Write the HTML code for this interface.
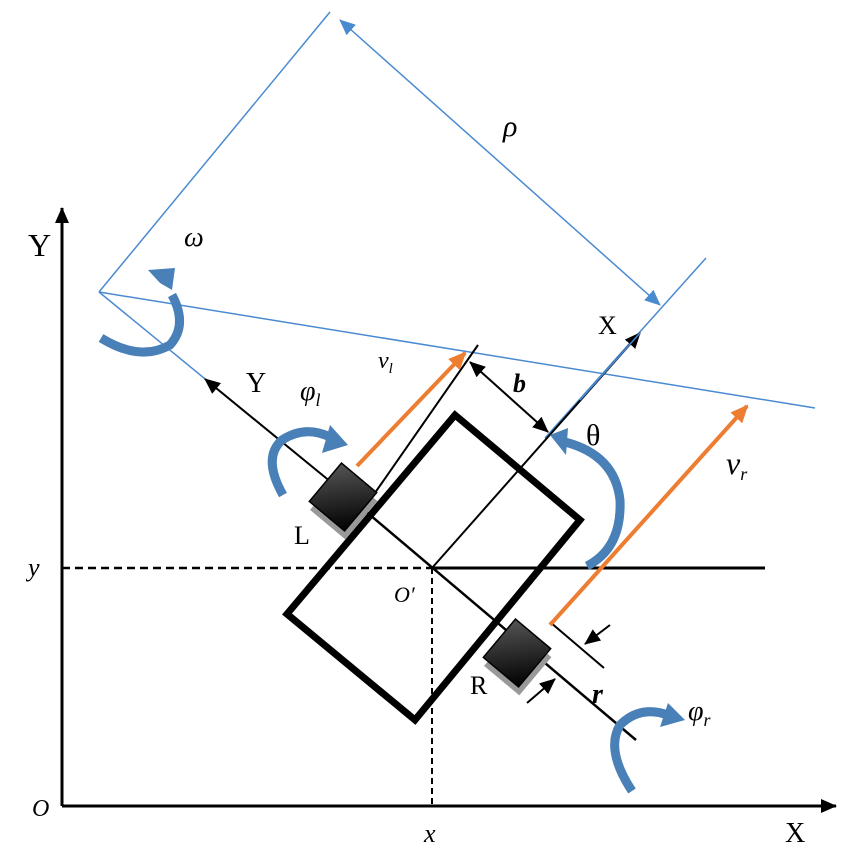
<!DOCTYPE html>
<html><head><meta charset="utf-8"><style>
html,body{margin:0;padding:0;background:#fff;width:850px;height:850px;overflow:hidden}
text{font-family:"Liberation Serif",serif}
</style></head><body>
<svg width="850" height="850" viewBox="0 0 850 850" xmlns="http://www.w3.org/2000/svg">
<defs>
<marker id="ab2" markerWidth="16" markerHeight="14" refX="15" refY="7" orient="auto" markerUnits="userSpaceOnUse"><path d="M0,0 L16,7 L0,14 Z" fill="#000"/></marker>
<marker id="ab2s" markerWidth="16" markerHeight="14" refX="1" refY="7" orient="auto" markerUnits="userSpaceOnUse"><path d="M16,0 L0,7 L16,14 Z" fill="#000"/></marker>
<marker id="abl" markerWidth="16" markerHeight="14" refX="15" refY="7" orient="auto" markerUnits="userSpaceOnUse"><path d="M0,0 L16,7 L0,14 Z" fill="#4a8ad0"/></marker>
<marker id="abls" markerWidth="16" markerHeight="14" refX="1" refY="7" orient="auto" markerUnits="userSpaceOnUse"><path d="M16,0 L0,7 L16,14 Z" fill="#4a8ad0"/></marker>
<marker id="ao" markerWidth="18" markerHeight="16" refX="16" refY="8" orient="auto" markerUnits="userSpaceOnUse"><path d="M0,0 L18,8 L0,16 Z" fill="#ed7d31"/></marker>
<linearGradient id="wg" x1="0" y1="0" x2="1" y2="1"><stop offset="0" stop-color="#555"/><stop offset="1" stop-color="#000"/></linearGradient>
</defs>
<line x1="62" y1="806" x2="62" y2="208" stroke="#000" stroke-width="3" marker-end="url(#ab2)"/>
<line x1="62" y1="806" x2="836" y2="806" stroke="#000" stroke-width="3" marker-end="url(#ab2)"/>
<g stroke="#4a8ad0" stroke-width="1.5" fill="none">
<line x1="99" y1="292" x2="330" y2="12"/>
<line x1="99" y1="292" x2="815" y2="408"/>
<line x1="99" y1="292" x2="337" y2="487"/>
<line x1="545" y1="438" x2="706" y2="258"/>
<line x1="340" y1="20" x2="660" y2="305" marker-start="url(#abls)" marker-end="url(#abl)"/>
</g>
<line x1="62" y1="568" x2="432" y2="568" stroke="#000" stroke-width="2.5" stroke-dasharray="8,5"/>
<line x1="432" y1="568" x2="432" y2="806" stroke="#000" stroke-width="2" stroke-dasharray="6,4"/>
<line x1="432" y1="568" x2="765" y2="568" stroke="#000" stroke-width="3"/>
<line x1="432" y1="568" x2="640" y2="333" stroke="#000" stroke-width="2" marker-end="url(#ab2)"/>
<line x1="580" y1="400" x2="640" y2="333" stroke="#4a8ad0" stroke-width="1.5"/>
<line x1="337" y1="487" x2="205" y2="379" stroke="#000" stroke-width="2" marker-end="url(#ab2)"/>
<line x1="337" y1="487" x2="636" y2="740" stroke="#000" stroke-width="2.5"/>
<polygon points="455,415 580,520 415,720 287,614" fill="none" stroke="#000" stroke-width="7"/>
<line x1="370" y1="500" x2="478" y2="345" stroke="#000" stroke-width="2"/>
<line x1="470" y1="362" x2="548" y2="432" stroke="#000" stroke-width="2" marker-start="url(#ab2s)" marker-end="url(#ab2)"/>
<line x1="550" y1="622" x2="604" y2="668" stroke="#000" stroke-width="2"/>
<line x1="610" y1="625" x2="585" y2="644" stroke="#000" stroke-width="2" marker-end="url(#ab2)"/>
<line x1="527" y1="703" x2="555" y2="679" stroke="#000" stroke-width="2" marker-end="url(#ab2)"/>
<line x1="357" y1="466" x2="465" y2="353" stroke="#ed7d31" stroke-width="4" marker-end="url(#ao)"/>
<line x1="550" y1="625" x2="747" y2="406" stroke="#ed7d31" stroke-width="4" marker-end="url(#ao)"/>
<g transform="translate(343,497) rotate(40)">
<rect x="-22" y="-24" width="46" height="50" fill="#999" transform="translate(5,5)"/>
<rect x="-23" y="-25" width="46" height="50" fill="url(#wg)" stroke="#000" stroke-width="1.5"/>
</g>
<g transform="translate(517,653) rotate(40)">
<rect x="-22" y="-24" width="46" height="50" fill="#999" transform="translate(5,5)"/>
<rect x="-23" y="-25" width="46" height="50" fill="url(#wg)" stroke="#000" stroke-width="1.5"/>
</g>
<g fill="none" stroke="#4a80b8" stroke-width="9">
<path d="M101,338 Q140,362 170,345 Q188,325 172,295"/>
<path d="M283,495 Q262,458 282,440 Q305,425 330,437"/>
<path d="M587,566 Q622,548 620,500 Q615,455 565,442"/>
<path d="M632,791 Q605,750 620,725 Q640,705 668,715"/>
</g>
<g fill="#4a80b8">
<polygon points="148,270 175,268 172,290 160,283"/>
<polygon points="330,425 348,445 322,453"/>
<polygon points="550,435 568,428 566,455"/>
<polygon points="668,703 685,720 660,727"/>
</g>
<text x="28" y="256" font-size="32">Y</text>
<text x="184" y="246" font-size="28" font-style="italic">ω</text>
<text x="503" y="136" font-size="30" font-style="italic">ρ</text>
<text x="598" y="334" font-size="26">X</text>
<text x="246" y="392" font-size="28">Y</text>
<text x="300" y="400" font-size="28" font-style="italic">φ<tspan font-size="18" dy="6">l</tspan></text>
<text x="378" y="368" font-size="24" font-style="italic">v<tspan font-size="15" dy="5">l</tspan></text>
<text x="513" y="392" font-size="26" font-style="italic" font-weight="bold">b</text>
<text x="586" y="445" font-size="30">θ</text>
<text x="726" y="474" font-size="32" font-style="italic">v<tspan font-size="18" dy="6">r</tspan></text>
<text x="294" y="544" font-size="26">L</text>
<text x="28" y="576" font-size="26" font-style="italic">y</text>
<text x="394" y="602" font-size="22" font-style="italic">O′</text>
<text x="470" y="694" font-size="26">R</text>
<text x="592" y="703" font-size="28" font-style="italic" font-weight="bold">r</text>
<text x="688" y="720" font-size="28" font-style="italic">φ<tspan font-size="18" dy="6">r</tspan></text>
<text x="32" y="816" font-size="24" font-style="italic">O</text>
<text x="424" y="842" font-size="26" font-style="italic">x</text>
<text x="785" y="842" font-size="28">X</text>
</svg>
</body></html>
